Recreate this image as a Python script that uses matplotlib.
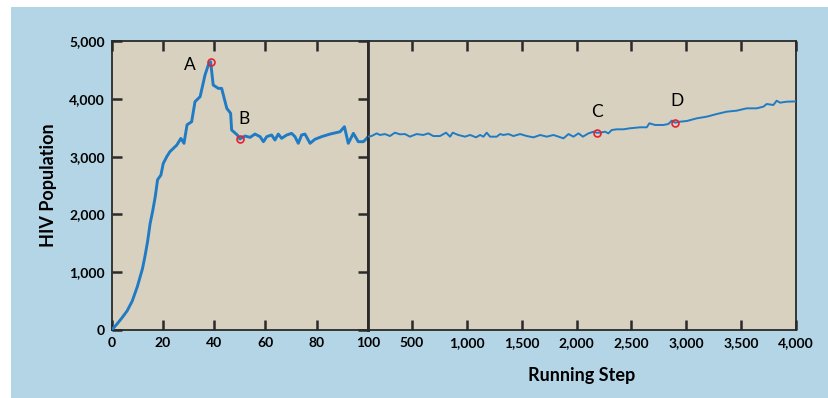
import matplotlib.pyplot as plt
from matplotlib.patches import Rectangle
from matplotlib.ticker import FuncFormatter

plt.rcParams['font.family'] = ['Lato', 'DejaVu Sans']

# colours
bg_blue = '#b4d5e6'
panel_tan = '#d9d1c0'
line_blue = '#1f7bc4'
edge = '#2a2a2a'

# panel 1: running steps 0-100
left_steps = [0, 2, 4, 6, 8, 10, 12, 13, 14, 15, 16, 17, 17.9, 19.2, 20.1,
              21.5, 22.7, 24, 25.4, 27, 28.2, 29.4, 31.2, 32.5, 34.5, 36.4,
              37.7, 38.6, 39.6, 41.6, 42.9, 44.9, 46.4, 46.8, 49, 50,
              52, 54, 55.9, 57.9, 59.2, 60.5, 62.4, 63.7, 65, 66.3, 68.3,
              70.2, 71.5, 72.8, 74.1, 75.4, 77.4, 79.3, 81.9, 85.2, 89.1,
              90.8, 92.3, 94.3, 96.2, 98.2, 99.5, 100]
left_pop = [0, 100, 210, 330, 500, 750, 1060, 1280, 1530, 1845, 2060, 2310,
            2600, 2680, 2880, 3000, 3085, 3140, 3200, 3315, 3230, 3550,
            3604, 3950, 4037, 4411, 4585, 4640, 4239, 4180, 4180, 3835,
            3749, 3460, 3374, 3304,
            3356, 3333, 3390, 3345, 3258, 3345, 3374, 3287, 3390, 3316,
            3374, 3402, 3345, 3230, 3374, 3390, 3230, 3300, 3345, 3390,
            3430, 3517, 3230, 3402, 3258, 3258, 3316, 3345]

# panel 2: running steps 100-4000
right_steps = [100, 133, 179, 209, 254, 300, 345, 391, 437, 482, 543, 604,
               650, 695, 756, 811, 848, 872, 923, 984, 1030, 1085, 1121,
               1152, 1182, 1212, 1273, 1304, 1334, 1380, 1425, 1486, 1547,
               1608, 1669, 1729, 1790, 1836, 1881, 1927, 1972, 2018, 2058,
               2109, 2154, 2184, 2214, 2260, 2290, 2321, 2366, 2427, 2488,
               2579, 2640, 2664, 2716, 2792, 2837, 2868, 2898, 2944, 3005,
               3096, 3187, 3278, 3369, 3460, 3551, 3642, 3703, 3733, 3794,
               3824, 3855, 3915, 4000]
right_pop = [3345, 3356, 3402, 3374, 3390, 3356, 3414, 3385, 3390, 3345,
             3390, 3374, 3402, 3356, 3356, 3414, 3345, 3414, 3374, 3345,
             3374, 3333, 3374, 3345, 3414, 3345, 3345, 3390, 3374, 3390,
             3356, 3390, 3356, 3333, 3374, 3345, 3374, 3345, 3316, 3390,
             3345, 3402, 3345, 3402, 3431, 3414, 3414, 3431, 3402, 3460,
             3472, 3472, 3490, 3507, 3507, 3576, 3547, 3547, 3564, 3622,
             3587, 3604, 3616, 3662, 3691, 3737, 3777, 3795, 3835, 3835,
             3864, 3910, 3893, 3967, 3933, 3950, 3955]

# marked points
mark_labels = ['A', 'B', 'C', 'D']
mark_x = [38.6, 50, 2184, 2898]
mark_y = [4640, 3304, 3414, 3587]
mark_panel = [0, 0, 1, 1]
label_offsets = [(-21, -3), (4, 20), (0, 21), (2, 22)]  # pixels

left_ticks = [0, 20, 40, 60, 80, 100]
right_ticks = [500, 1000, 1500, 2000, 2500, 3000, 3500, 4000]
y_ticks = [0, 1000, 2000, 3000, 4000, 5000]

W, H = 829, 398
fig = plt.figure(figsize=(W / 100, H / 100), dpi=100)
fig.patch.set_facecolor('white')
fig.patches.append(Rectangle((11 / W, 0), 1, (H - 7) / H, transform=fig.transFigure,
                             facecolor=bg_blue, edgecolor='none', zorder=-10))

bottom = (H - 330) / H
height = (330 - 41) / H
ax1 = fig.add_axes([111.7 / W, bottom, (368 - 111.7) / W, height])
ax2 = fig.add_axes([368 / W, bottom, (796 - 368) / W, height])

comma = FuncFormatter(lambda v, p: f'{int(v):,}')
tick_font = 10

for ax in (ax1, ax2):
    ax.set_facecolor(panel_tan)
    ax.set_ylim(0, 5000)
    for s in ax.spines.values():
        s.set_color(edge)
        s.set_linewidth(1.3)
    ax.tick_params(axis='x', direction='in', top=True, bottom=True, length=7,
                   width=1.8, color=edge, pad=5, labelsize=tick_font)

ax1.plot(left_steps, left_pop, color=line_blue, lw=2.1, zorder=3)
ax1.set_xlim(0, 100)
ax1.set_xticks(left_ticks)
ax1.set_yticks(y_ticks)
ax1.yaxis.set_major_formatter(comma)
ax1.tick_params(axis='y', direction='in', left=True, right=True, length=7,
                width=1.8, color=edge, pad=5, labelsize=tick_font)
ax1.spines['right'].set_linewidth(2.0)
ax1.set_ylabel('HIV Population', fontsize=13, fontweight='bold')
ax1.yaxis.set_label_coords(-0.215, 0.5)

ax2.plot(right_steps, right_pop, color=line_blue, lw=1.4, zorder=3)
ax2.set_xlim(100, 4000)
ax2.set_xticks(right_ticks)
ax2.xaxis.set_major_formatter(comma)
ax2.set_yticks([])
# divider between the two panels
ax2.spines['left'].set_linewidth(2.0)

for ax in (ax1, ax2):
    for lab in ax.get_xticklabels() + ax.get_yticklabels():
        lab.set_fontweight('bold')

axes = [ax1, ax2]
for lab, x, y, p, off in zip(mark_labels, mark_x, mark_y, mark_panel, label_offsets):
    ax = axes[p]
    ax.plot([x], [y], marker='o', ms=5, mfc='none', mec='#e8202a', mew=1.2,
            zorder=5, clip_on=False)
    ax.annotate(lab, (x, y), xytext=off, textcoords='offset pixels',
                ha='center', va='center', fontsize=12.5)

fig.text(582 / W, 1 - 376 / H, 'Running Step', ha='center', va='center',
         fontsize=13, fontweight='bold')

fig.savefig('out.png', dpi=100)
